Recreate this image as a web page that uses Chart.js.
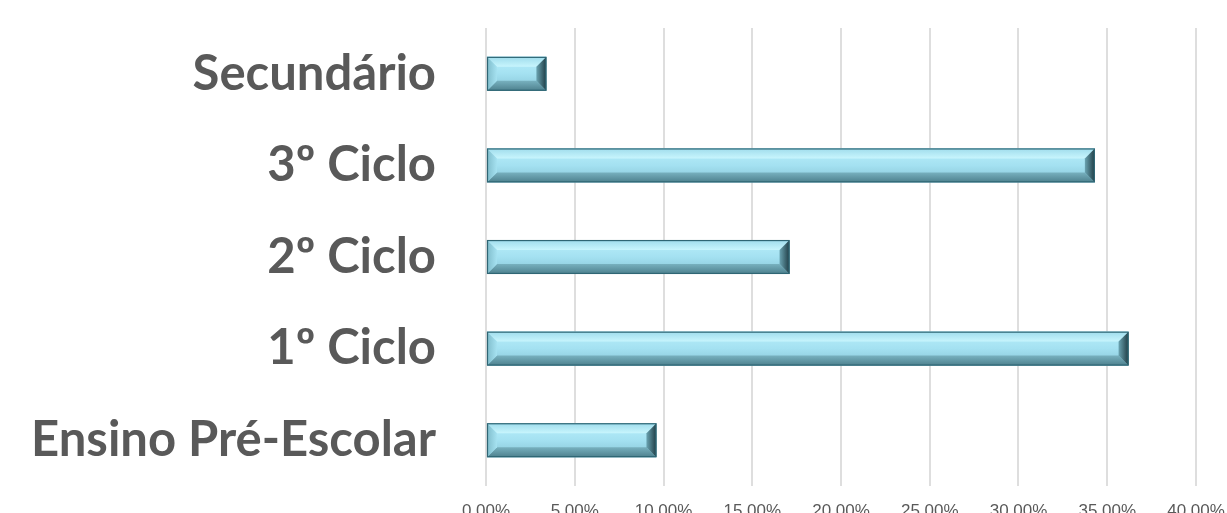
<!DOCTYPE html>
<html>
<head>
<meta charset="utf-8">
<script src="https://cdn.jsdelivr.net/npm/chart.js@4/dist/chart.umd.min.js"></script>
<style>
  html, body { margin: 0; padding: 0; background: #ffffff; overflow: hidden; }
  #wrap { position: relative; width: 1227px; height: 540px; }
</style>
</head>
<body>
<div id="wrap"><canvas id="c"></canvas></div>
<script>
const categories = ['Secundário', '3º Ciclo', '2º Ciclo', '1º Ciclo', 'Ensino Pré-Escolar'];
const shares = [0.034, 0.343, 0.171, 0.362, 0.096];
const tickMin = 0;
const tickMax = 0.40;
const tickStep = 0.05;

const bevelPlugin = {
  id: 'bevel',
  afterDatasetsDraw(chart) {
    const ctx = chart.ctx;
    chart.getSortedVisibleDatasetMetas().forEach(meta => {
      meta.data.forEach(el => {
        const p = el.getProps(['x', 'y', 'base', 'height'], true);
        const L = Math.min(p.base, p.x), R = Math.max(p.base, p.x);
        const T = p.y - p.height / 2, B = p.y + p.height / 2;
        const b = Math.min(10, (R - L) / 2, p.height / 3.4);
        ctx.save();
        const g = ctx.createLinearGradient(0, T, 0, B);
        g.addColorStop(0, '#b9effb');
        g.addColorStop(0.5, '#a4e1f1');
        g.addColorStop(1, '#86c4d5');
        ctx.fillStyle = g;
        ctx.fillRect(L, T, R - L, B - T);
        const poly = (pts, fill) => {
          ctx.beginPath();
          ctx.moveTo(pts[0][0], pts[0][1]);
          for (let i = 1; i < pts.length; i++) ctx.lineTo(pts[i][0], pts[i][1]);
          ctx.closePath();
          ctx.fillStyle = fill;
          ctx.fill();
        };
        const gt = ctx.createLinearGradient(0, T, 0, T + b);
        gt.addColorStop(0, '#9fdcec');
        gt.addColorStop(1, '#c8f5fd');
        poly([[L, T], [R, T], [R - b, T + b], [L + b, T + b]], gt);
        const gb = ctx.createLinearGradient(0, B - b, 0, B);
        gb.addColorStop(0, '#78b1bf');
        gb.addColorStop(1, '#4d808d');
        poly([[L, B], [R, B], [R - b, B - b], [L + b, B - b]], gb);
        const gl = ctx.createLinearGradient(L, 0, L + b, 0);
        gl.addColorStop(0, '#7fbccb');
        gl.addColorStop(1, '#a6e2f1');
        poly([[L, T], [L + b, T + b], [L + b, B - b], [L, B]], gl);
        const gr = ctx.createLinearGradient(R - b, 0, R, 0);
        gr.addColorStop(0, '#6aa3b1');
        gr.addColorStop(1, '#1f3c44');
        poly([[R, T], [R - b, T + b], [R - b, B - b], [R, B]], gr);
        ctx.strokeStyle = '#2f6674';
        ctx.lineWidth = 1.2;
        ctx.strokeRect(L + 0.5, T + 0.5, R - L - 1, B - T - 1);
        ctx.restore();
      });
    });
  }
};

new Chart(document.getElementById('c'), {
  type: 'bar',
  data: {
    labels: categories,
    datasets: [{
      data: shares,
      backgroundColor: '#a2e0f0',
      borderWidth: 0,
      categoryPercentage: 1.0,
      barPercentage: 0.37
    }]
  },
  options: {
    indexAxis: 'y',
    responsive: true,
    maintainAspectRatio: false,
    animation: false,
    layout: { padding: { top: 28, right: 31, bottom: 0, left: 0 } },
    plugins: { legend: { display: false }, tooltip: { enabled: false } },
    scales: {
      x: {
        min: tickMin,
        max: tickMax,
        ticks: {
          stepSize: tickStep,
          padding: 15,
          color: '#595959',
          font: { family: "'Liberation Sans Narrow', 'Liberation Sans', sans-serif", size: 17 },
          callback: v => (v * 100).toFixed(2) + '%'
        },
        grid: { color: '#dedede', lineWidth: 2, drawTicks: false },
        border: { display: false },
        afterFit: s => { s.height = 54; s.paddingLeft = 0; s.paddingRight = 0; }
      },
      y: {
        ticks: {
          padding: 50,
          color: '#595959',
          font: { family: "Lato, 'Open Sans', sans-serif", size: 49, weight: 'bold' }
        },
        grid: { display: false, drawTicks: false },
        border: { display: false },
        afterFit: s => { s.width = 486; s.paddingTop = 0; s.paddingBottom = 0; }
      }
    }
  },
  plugins: [bevelPlugin]
});
</script>
</body>
</html>
